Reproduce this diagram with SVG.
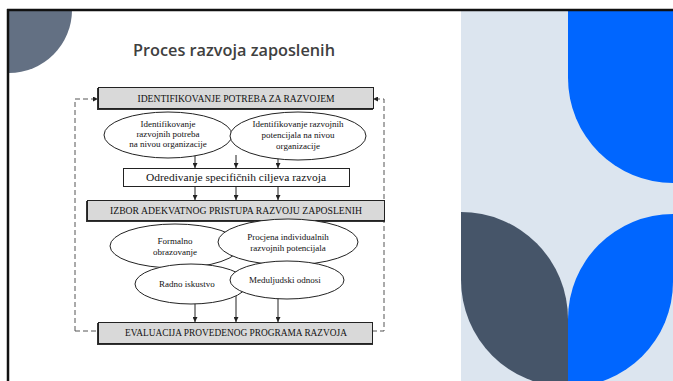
<svg xmlns="http://www.w3.org/2000/svg" width="673" height="381" viewBox="0 0 673 381">
<defs>
<style>
.bx{stroke:#222;stroke-width:1}
.gray{fill:#d9d9d9}
.white{fill:#fff}
.sh{fill:#333}
.el{fill:#fff;stroke:#222;stroke-width:1}
.t{font-family:"Liberation Serif","Times New Roman",serif;fill:#111;text-anchor:middle}
.cap{font-size:9.5px}
.sm{font-size:9px}
.con{stroke:#222;stroke-width:1;fill:none}
.dash{stroke:#555;stroke-width:1;fill:none;stroke-dasharray:5,3}
</style>
<marker id="ah" viewBox="0 0 6 6" refX="6" refY="3" markerWidth="5" markerHeight="5" orient="auto" markerUnits="userSpaceOnUse">
<path d="M0,0 L6,3 L0,6 Z" fill="#222"/>
</marker>
</defs>
<rect x="0" y="0" width="673" height="381" fill="#fff"/>
<g id="decor">
<path d="M9,10 H72 A63,63 0 0 1 9,73 Z" fill="#637083"/>
<rect x="461" y="11" width="212" height="370" fill="#dce5ef"/>
<path d="M568,11 V78 A105,105 0 0 0 673,183 V11 Z" fill="#0066ff"/>
<path d="M461,212 A107,107 0 0 1 568,319 V387 A107,107 0 0 1 461,280 Z" fill="#465569"/>
<path d="M568,319 A105,105 0 0 1 673,214 V282 A105,105 0 0 1 568,387 Z" fill="#0066ff"/>
<line x1="7" y1="10" x2="673" y2="10" stroke="#111" stroke-width="2.5"/>
<line x1="8" y1="9" x2="8" y2="381" stroke="#111" stroke-width="2.5"/>
</g>
<g id="title">
<text x="234" y="56" font-family="Open Sans, Liberation Sans, sans-serif" font-weight="600" font-size="17" fill="#404040" text-anchor="middle" textLength="202" lengthAdjust="spacingAndGlyphs">Proces razvoja zaposlenih</text>
</g>
<g id="connectors">
<path class="dash" d="M75,331 V99 H98" marker-end="url(#ah)"/>
<path class="dash" d="M75,331 H98"/>
<path class="dash" d="M372,331 H384 V99 H373" marker-end="url(#ah)"/>
<line class="con" x1="195" y1="155" x2="195" y2="168" marker-end="url(#ah)"/>
<line class="con" x1="236" y1="155" x2="236" y2="168" marker-end="url(#ah)"/>
<line class="con" x1="278" y1="155" x2="278" y2="168" marker-end="url(#ah)"/>
<line class="con" x1="195" y1="187" x2="195" y2="200" marker-end="url(#ah)"/>
<line class="con" x1="236" y1="187" x2="236" y2="200" marker-end="url(#ah)"/>
<line class="con" x1="278" y1="187" x2="278" y2="200" marker-end="url(#ah)"/>
<line class="con" x1="195" y1="300" x2="195" y2="322" marker-end="url(#ah)"/>
<line class="con" x1="236" y1="296" x2="236" y2="322" marker-end="url(#ah)"/>
<line class="con" x1="278" y1="298" x2="278" y2="322" marker-end="url(#ah)"/>
</g>
<g id="n-identifikovanje">
<rect class="sh" x="97" y="88" width="276" height="22"/>
<rect class="gray bx" x="98.5" y="87.5" width="275" height="21"/>
<text class="t cap" x="236" y="102" textLength="197" lengthAdjust="spacingAndGlyphs">IDENTIFIKOVANJE POTREBA ZA RAZVOJEM</text>
</g>
<g id="n-potrebe-org">
<ellipse class="el" cx="168" cy="135" rx="64" ry="23"/>
<text class="t sm" x="168" y="127">Identifikovanje</text>
<text class="t sm" x="168" y="137">razvojnih potreba</text>
<text class="t sm" x="168" y="147">na nivou organizacije</text>
</g>
<g id="n-potencijali-org">
<ellipse class="el" cx="298" cy="136" rx="68" ry="24"/>
<text class="t sm" x="298" y="127">Identifikovanje razvojnih</text>
<text class="t sm" x="298" y="138">potencijala na nivou</text>
<text class="t sm" x="298" y="149">organizacije</text>
</g>
<g id="n-ciljevi">
<rect class="white bx" x="123.5" y="168.5" width="226" height="18"/>
<text class="t" font-size="9.5" x="236" y="181" textLength="180" lengthAdjust="spacingAndGlyphs">Odredivanje specifičnih ciljeva razvoja</text>
</g>
<g id="n-izbor">
<rect class="sh" x="86" y="201" width="299" height="21"/>
<rect class="gray bx" x="87.5" y="200.5" width="297" height="20"/>
<text class="t cap" x="236" y="214" textLength="252" lengthAdjust="spacingAndGlyphs">IZBOR ADEKVATNOG PRISTUPA RAZVOJU ZAPOSLENIH</text>
</g>
<g id="n-formalno">
<ellipse class="el" cx="175" cy="246" rx="65" ry="22"/>
<text class="t sm" x="175" y="244">Formalno</text>
<text class="t sm" x="175" y="255">obrazovanje</text>
</g>
<g id="n-procjena">
<ellipse class="el" cx="288" cy="242" rx="70" ry="23"/>
<text class="t sm" x="288" y="240">Procjena individualnih</text>
<text class="t sm" x="288" y="251">razvojnih potencijala</text>
</g>
<g id="n-radno">
<ellipse class="el" cx="191" cy="284" rx="56" ry="20"/>
<text class="t sm" x="187" y="287">Radno iskustvo</text>
</g>
<g id="n-meduljudski">
<ellipse class="el" cx="287" cy="280" rx="57" ry="19"/>
<text class="t sm" x="285" y="283">Meduljudski odnosi</text>
</g>
<g id="n-evaluacija">
<rect class="sh" x="97" y="323" width="276" height="22"/>
<rect class="gray bx" x="98.5" y="322.5" width="274" height="21"/>
<text class="t cap" x="236" y="336" textLength="222" lengthAdjust="spacingAndGlyphs">EVALUACIJA PROVEDENOG PROGRAMA RAZVOJA</text>
</g>
</svg>
